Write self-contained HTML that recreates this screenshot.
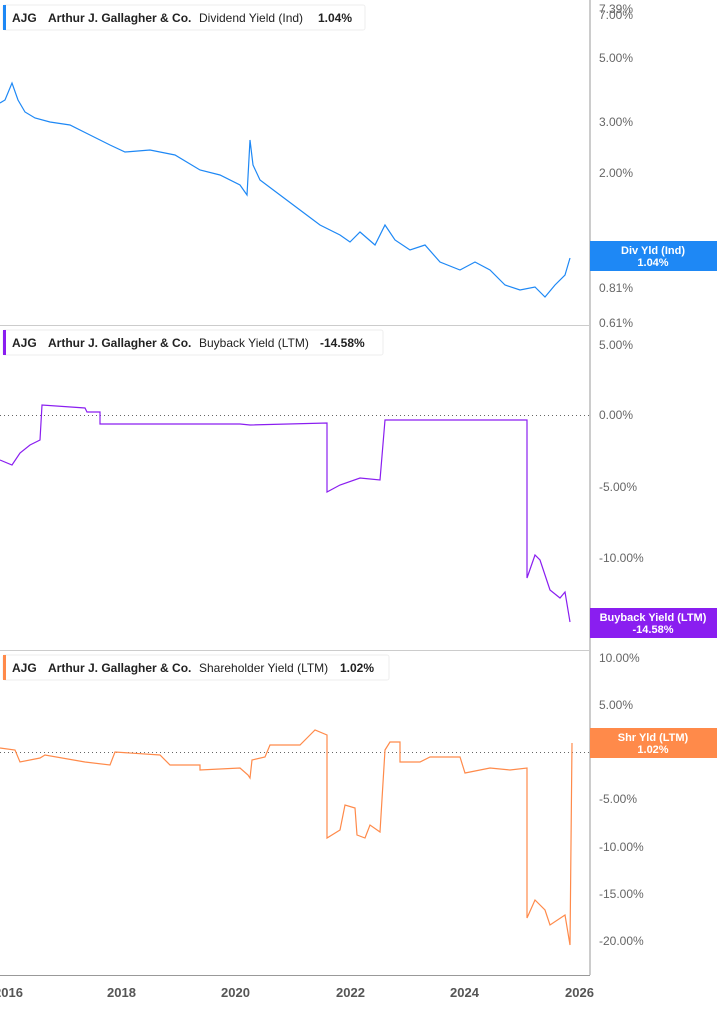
<!DOCTYPE html>
<html><head><meta charset="utf-8"><style>
body{margin:0;background:#fff;font-family:"Liberation Sans",sans-serif;}
svg text{font-family:"Liberation Sans",sans-serif;}
</style></head><body>
<svg width="717" height="1005" viewBox="0 0 717 1005" xmlns="http://www.w3.org/2000/svg">
<rect width="717" height="1005" fill="#fff"/>
<!-- axes -->
<line x1="590" y1="0" x2="590" y2="975" stroke="#999" stroke-width="1"/>
<line x1="0" y1="325.5" x2="590" y2="325.5" stroke="#ccc"/>
<line x1="0" y1="650.5" x2="590" y2="650.5" stroke="#ccc"/>
<line x1="0" y1="975.5" x2="590" y2="975.5" stroke="#999"/>
<g font-size="12" fill="#666">
<text x="599" y="13">7.39%</text><text x="599" y="19">7.00%</text>
<text x="599" y="62">5.00%</text><text x="599" y="126">3.00%</text>
<text x="599" y="177">2.00%</text><text x="599" y="266">1.00%</text>
<text x="599" y="292">0.81%</text><text x="599" y="327">0.61%</text>
<text x="599" y="349">5.00%</text><text x="599" y="419">0.00%</text>
<text x="599" y="491">-5.00%</text><text x="599" y="562">-10.00%</text>
<text x="599" y="633">-15.00%</text>
<text x="599" y="662">10.00%</text><text x="599" y="709">5.00%</text>
<text x="599" y="756">0.00%</text><text x="599" y="803">-5.00%</text>
<text x="599" y="851">-10.00%</text><text x="599" y="898">-15.00%</text>
<text x="599" y="945">-20.00%</text>
</g>
<g font-size="13" font-weight="bold" fill="#555">
<text x="-6" y="997">2016</text><text x="107" y="997">2018</text>
<text x="221" y="997">2020</text><text x="336" y="997">2022</text>
<text x="450" y="997">2024</text><text x="565" y="997">2026</text>
</g>
<line x1="0" y1="415.5" x2="590" y2="415.5" stroke="#666" stroke-dasharray="1,3"/>
<line x1="0" y1="752.5" x2="590" y2="752.5" stroke="#666" stroke-dasharray="1,3"/>
<!-- series -->
<polyline fill="none" stroke="#1e88f5" stroke-width="1.2" points="0,103 5,100 12,83 18,100 25,112 35,118 50,122 70,125 90,135 110,145 125,152 150,150 175,155 200,170 220,175 240,185 247,195 250,140 253,165 260,180 280,195 300,210 320,225 340,235 350,242 360,232 375,245 385,225 395,240 410,250 425,245 440,262 460,270 475,262 490,270 505,285 520,290 535,287 545,297 555,285 565,275 570,258"/>
<polyline fill="none" stroke="#8a1ef0" stroke-width="1.2" points="0,460 12,465 20,453 30,445 40,440 42,405 85,408 87,412 100,412 100,424 240,424 250,425 327,423 327,492 340,485 360,478 380,480 385,420 527,420 527,578 535,555 540,560 545,575 550,590 560,598 565,592 570,622"/>
<polyline fill="none" stroke="#ff8a4a" stroke-width="1.2" points="0,748 15,750 20,762 40,758 45,755 85,762 110,765 115,752 160,755 170,765 200,765 200,770 240,768 248,775 250,778 252,760 265,757 270,745 300,745 310,735 315,730 327,735 327,838 340,830 345,805 355,808 357,835 365,838 370,825 380,832 385,750 390,742 400,742 400,762 420,762 430,757 460,757 465,773 490,768 510,770 527,768 527,918 535,900 545,910 550,925 565,915 570,945 572,743"/>
<!-- legends -->
<g font-size="12" font-weight="bold" fill="#222">
<rect x="3" y="5" width="362" height="25" fill="#fff" stroke="#eee" rx="2"/>
<rect x="3" y="5" width="3" height="25" fill="#1e88f5"/>
<text x="12" y="22">AJG</text><text x="48" y="22">Arthur J. Gallagher &amp; Co.</text>
<text x="199" y="22" font-weight="normal">Dividend Yield (Ind)</text><text x="318" y="22">1.04%</text>
<rect x="3" y="330" width="380" height="25" fill="#fff" stroke="#eee" rx="2"/>
<rect x="3" y="330" width="3" height="25" fill="#8a1ef0"/>
<text x="12" y="347">AJG</text><text x="48" y="347">Arthur J. Gallagher &amp; Co.</text>
<text x="199" y="347" font-weight="normal">Buyback Yield (LTM)</text><text x="320" y="347">-14.58%</text>
<rect x="3" y="655" width="386" height="25" fill="#fff" stroke="#eee" rx="2"/>
<rect x="3" y="655" width="3" height="25" fill="#ff8a4a"/>
<text x="12" y="672">AJG</text><text x="48" y="672">Arthur J. Gallagher &amp; Co.</text>
<text x="199" y="672" font-weight="normal">Shareholder Yield (LTM)</text><text x="340" y="672">1.02%</text>
</g>
<!-- value tags -->
<g font-size="11" font-weight="bold" fill="#fff" text-anchor="middle">
<rect x="590" y="241" width="127" height="30" fill="#1e88f5"/>
<text x="653" y="254">Div Yld (Ind)</text><text x="653" y="266">1.04%</text>
<rect x="590" y="608" width="127" height="30" fill="#8a1ef0"/>
<text x="653" y="621">Buyback Yield (LTM)</text><text x="653" y="633">-14.58%</text>
<rect x="590" y="728" width="127" height="30" fill="#ff8a4a"/>
<text x="653" y="741">Shr Yld (LTM)</text><text x="653" y="753">1.02%</text>
</g>
</svg>
</body></html>
